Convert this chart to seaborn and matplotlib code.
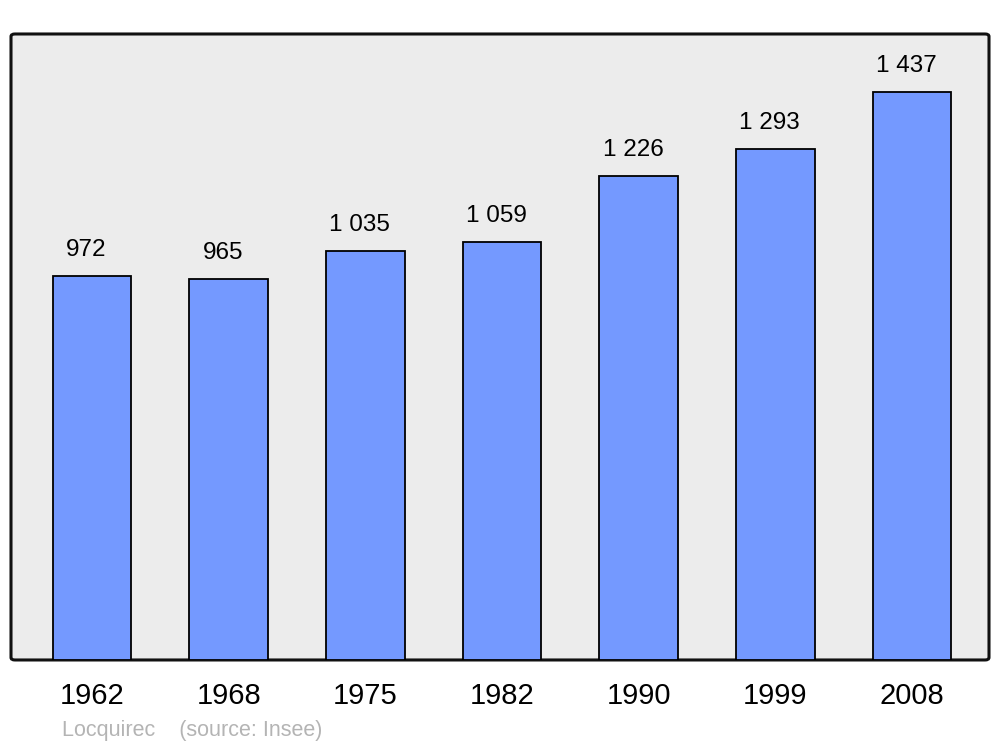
import matplotlib.pyplot as plt
import pandas as pd
import seaborn as sns
from matplotlib.patches import FancyBboxPatch

years = ["1962", "1968", "1975", "1982", "1990", "1999", "2008"]
population = [972, 965, 1035, 1059, 1226, 1293, 1437]
value_labels = ["972", "965", "1 035", "1 059", "1 226", "1 293", "1 437"]

BAR_COLOR = "#7499ff"
FRAME_BG = "#ececec"

sns.set_theme(style="white")
plt.rcParams["font.family"] = ["Liberation Sans", "DejaVu Sans"]

df = pd.DataFrame({"year": years, "population": population})

fig = plt.figure(figsize=(10, 7.47), dpi=100)
ax = fig.add_axes([0.011, 0.1165, 0.978, 0.838])
ax.set_facecolor("none")

sns.barplot(
    data=df,
    x="year",
    y="population",
    color=BAR_COLOR,
    saturation=1,
    width=0.575,
    edgecolor="black",
    linewidth=1.3,
    ax=ax,
    zorder=2,
)

# rounded frame behind the bars
frame = FancyBboxPatch(
    (0, 0), 1, 1,
    boxstyle="round,pad=0,rounding_size=0.004",
    transform=ax.transAxes,
    facecolor=FRAME_BG,
    edgecolor="#111111",
    linewidth=2.2,
    zorder=0,
    clip_on=False,
)
ax.add_patch(frame)

for i, (val, lab) in enumerate(zip(population, value_labels)):
    ax.annotate(
        lab,
        xy=(i, val),
        xytext=(-4, 14.5),
        textcoords="offset points",
        ha="center",
        va="baseline",
        fontsize=17.5,
        color="black",
    )

ax.set_xlim(-0.593, 6.563)
ax.set_ylim(0, 1585)
for s in ax.spines.values():
    s.set_visible(False)
ax.set_yticks([])
ax.set_xlabel("")
ax.set_ylabel("")
ax.tick_params(axis="x", length=0, pad=16, labelsize=21, colors="black")

fig.text(0.062, 0.015, "Locquirec    (source: Insee)", fontsize=15.5,
         color="#b4b4b4", ha="left", va="baseline")

fig.savefig("out.png", dpi=100)
